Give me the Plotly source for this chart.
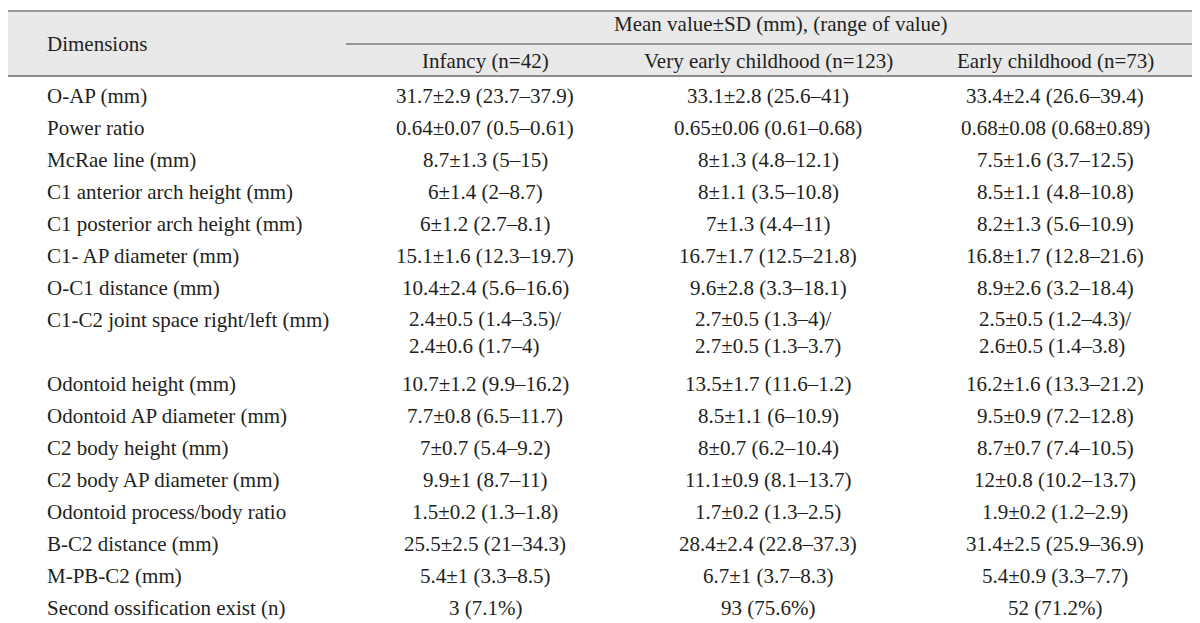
import plotly.graph_objects as go

# ---- data ----
header_group = "Mean value±SD (mm), (range of value)"
header_dim = "Dimensions"
groups = ["Infancy (n=42)", "Very early childhood (n=123)", "Early childhood (n=73)"]

dimensions = [
    "O-AP (mm)",
    "Power ratio",
    "McRae line (mm)",
    "C1 anterior arch height (mm)",
    "C1 posterior arch height (mm)",
    "C1- AP diameter (mm)",
    "O-C1 distance (mm)",
    "C1-C2 joint space right/left (mm)",
    "Odontoid height (mm)",
    "Odontoid AP diameter (mm)",
    "C2 body height (mm)",
    "C2 body AP diameter (mm)",
    "Odontoid process/body ratio",
    "B-C2 distance (mm)",
    "M-PB-C2 (mm)",
    "Second ossification exist (n)",
]

infancy = [
    "31.7±2.9 (23.7–37.9)",
    "0.64±0.07 (0.5–0.61)",
    "8.7±1.3 (5–15)",
    "6±1.4 (2–8.7)",
    "6±1.2 (2.7–8.1)",
    "15.1±1.6 (12.3–19.7)",
    "10.4±2.4 (5.6–16.6)",
    "2.4±0.5 (1.4–3.5)/<br>2.4±0.6 (1.7–4)",
    "10.7±1.2 (9.9–16.2)",
    "7.7±0.8 (6.5–11.7)",
    "7±0.7 (5.4–9.2)",
    "9.9±1 (8.7–11)",
    "1.5±0.2 (1.3–1.8)",
    "25.5±2.5 (21–34.3)",
    "5.4±1 (3.3–8.5)",
    "3 (7.1%)",
]

very_early = [
    "33.1±2.8 (25.6–41)",
    "0.65±0.06 (0.61–0.68)",
    "8±1.3 (4.8–12.1)",
    "8±1.1 (3.5–10.8)",
    "7±1.3 (4.4–11)",
    "16.7±1.7 (12.5–21.8)",
    "9.6±2.8 (3.3–18.1)",
    "2.7±0.5 (1.3–4)/<br>2.7±0.5 (1.3–3.7)",
    "13.5±1.7 (11.6–1.2)",
    "8.5±1.1 (6–10.9)",
    "8±0.7 (6.2–10.4)",
    "11.1±0.9 (8.1–13.7)",
    "1.7±0.2 (1.3–2.5)",
    "28.4±2.4 (22.8–37.3)",
    "6.7±1 (3.7–8.3)",
    "93 (75.6%)",
]

early = [
    "33.4±2.4 (26.6–39.4)",
    "0.68±0.08 (0.68±0.89)",
    "7.5±1.6 (3.7–12.5)",
    "8.5±1.1 (4.8–10.8)",
    "8.2±1.3 (5.6–10.9)",
    "16.8±1.7 (12.8–21.6)",
    "8.9±2.6 (3.2–18.4)",
    "2.5±0.5 (1.2–4.3)/<br>2.6±0.5 (1.4–3.8)",
    "16.2±1.6 (13.3–21.2)",
    "9.5±0.9 (7.2–12.8)",
    "8.7±0.7 (7.4–10.5)",
    "12±0.8 (10.2–13.7)",
    "1.9±0.2 (1.2–2.9)",
    "31.4±2.5 (25.9–36.9)",
    "5.4±0.9 (3.3–7.7)",
    "52 (71.2%)",
]

# ---- layout constants ----
W, H = 1200, 623
FONT = "Liberation Serif"
FS = 21
TXT = "#231f20"
label_x = 37
col_x = [477, 760, 1047]
first_row_y = 88
row_step = 32
line2_gap = 25

fig = go.Figure()

# row y positions (two-line row takes two steps)
row_y = []
y = first_row_y
for d in dimensions:
    row_y.append(y)
    y += row_step * (2 if "<br>" in infancy[dimensions.index(d)] else 1)

annotations = []
def ann(x, y, text, xanchor="center", align="center"):
    annotations.append(dict(x=x, y=y, xref="x", yref="y", text=text, showarrow=False,
                            xanchor=xanchor, yanchor="middle", align=align,
                            font=dict(family=FONT, size=FS, color=TXT)))

# header
ann(label_x, 36, header_dim, xanchor="left")
ann(772, 16, header_group)
for cx, g in zip(col_x, groups):
    ann(cx, 53, g)

# body
for i, d in enumerate(dimensions):
    ann(label_x, row_y[i], d, xanchor="left")
    for cx, col in zip(col_x, [infancy, very_early, early]):
        t = col[i]
        if "<br>" in t:
            annotations.append(dict(x=cx, y=row_y[i] + line2_gap / 2, xref="x", yref="y",
                                    text=t, showarrow=False, xanchor="center", yanchor="middle",
                                    align="left",
                                    font=dict(family=FONT, size=FS, color=TXT)))
        else:
            ann(cx, row_y[i], t)

shapes = [
    dict(type="rect", xref="x", yref="y", x0=0, x1=W, y0=3, y1=68,
         fillcolor="#e9e9e9", line=dict(width=0), layer="below"),
    dict(type="line", xref="x", yref="y", x0=0, x1=W, y0=3, y1=3,
         line=dict(color="#999999", width=2)),
    dict(type="line", xref="x", yref="y", x0=338, x1=W, y0=36, y1=36,
         line=dict(color="#444444", width=1)),
    dict(type="line", xref="x", yref="y", x0=0, x1=W, y0=68, y1=68,
         line=dict(color="#8a8a8a", width=2)),
    dict(type="line", xref="x", yref="y", x0=0, x1=W, y0=619, y1=619,
         line=dict(color="#a0a0a0", width=3)),
]

fig.add_trace(go.Scatter(x=[0, W], y=[0, H], mode="markers",
                         marker=dict(opacity=0), hoverinfo="skip", showlegend=False))

fig.update_layout(
    width=W, height=H,
    margin=dict(l=0, r=0, t=0, b=0),
    paper_bgcolor="white", plot_bgcolor="white",
    xaxis=dict(range=[0, W], visible=False, fixedrange=True),
    yaxis=dict(range=[H, 0], visible=False, fixedrange=True),
    annotations=annotations, shapes=shapes, showlegend=False,
)

fig.write_html("out.html")
